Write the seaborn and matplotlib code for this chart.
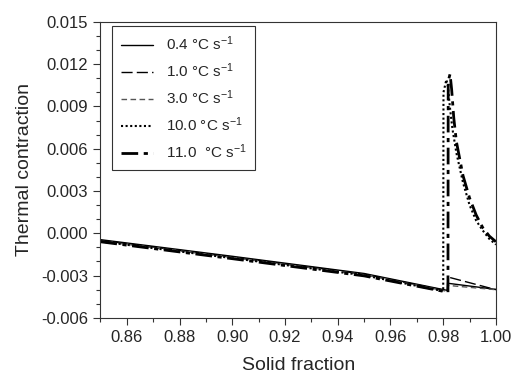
import matplotlib
matplotlib.use("Agg")
import matplotlib.pyplot as plt
import seaborn as sns
import numpy as np
import pandas as pd
from matplotlib.ticker import MultipleLocator

# ---- data ----
labels = ["0.4 °C s$^{-1}$", "1.0 °C s$^{-1}$", "3.0 °C s$^{-1}$",
          "10.0 °C s$^{-1}$", "11.0  °C s$^{-1}$"]

x_04 = [0.85, 0.90, 0.95, 0.9816, 0.9820, 1.00]
y_04 = [-0.00045, -0.00163, -0.00285, -0.00405, -0.00355, -0.00398]

x_10 = [0.85, 0.90, 0.95, 0.9815, 0.9818, 1.00]
y_10 = [-0.00050, -0.00168, -0.00290, -0.00408, -0.00310, -0.00400]

x_30 = [0.85, 0.90, 0.95, 0.9816, 0.9820, 1.00]
y_30 = [-0.00055, -0.00172, -0.00294, -0.00412, -0.00370, -0.00400]

x_100 = [0.85, 0.90, 0.95, 0.9800, 0.9801, 0.9812, 0.9818, 0.9825, 0.9835,
         0.985, 0.9875, 0.990, 0.9925, 0.995, 0.9975, 1.00]
y_100 = [-0.00058, -0.00176, -0.00298, -0.00410, 0.0100, 0.0109, 0.0104,
         0.0090, 0.0074, 0.0057, 0.0036, 0.0020, 0.0009, 0.0002, -0.0004, -0.0008]

x_110 = [0.85, 0.90, 0.95, 0.9818, 0.9819, 0.9826, 0.9832, 0.984, 0.985,
         0.9875, 0.990, 0.9925, 0.995, 0.9975, 1.00]
y_110 = [-0.00060, -0.00180, -0.00302, -0.00418, 0.0108, 0.0113, 0.0102,
         0.0082, 0.0065, 0.0041, 0.0025, 0.0013, 0.0004, -0.0002, -0.0006]

x_ticks = [0.86, 0.88, 0.90, 0.92, 0.94, 0.96, 0.98, 1.00]
y_ticks = [-0.006, -0.003, 0.000, 0.003, 0.006, 0.009, 0.012, 0.015]

# ---- style ----
sns.set_style("ticks")
plt.rcParams['font.family'] = ['Liberation Sans', 'DejaVu Sans']
plt.rcParams['mathtext.fontset'] = 'custom'
plt.rcParams['mathtext.rm'] = 'Liberation Sans'
plt.rcParams['mathtext.it'] = 'Liberation Sans:italic'

fig = plt.figure(figsize=(5.15, 3.83), dpi=100)
ax = fig.add_axes([0.195, 0.170, 0.768, 0.773])

series = [(x_04, y_04), (x_10, y_10), (x_30, y_30), (x_100, y_100), (x_110, y_110)]
styles = [
    dict(color="black", lw=1.0, ls="-"),
    dict(color="black", lw=1.0, ls=(0, (8, 3))),
    dict(color="#555555", lw=1.0, ls=(0, (4, 2.5))),
    dict(color="black", lw=1.5, ls=(0, (1, 1.2))),
    dict(color="black", lw=2.0, ls=(0, (6, 2, 1.5, 2))),
]
for (xs, ys), lab, st in zip(series, labels, styles):
    df = pd.DataFrame({"x": xs, "y": ys})
    sns.lineplot(data=df, x="x", y="y", ax=ax, label=lab, sort=False,
                 estimator=None, **st)

ax.set_xlim(0.85, 1.00)
ax.set_ylim(-0.006, 0.015)
ax.set_xticks(x_ticks)
ax.set_xticklabels([f"{v:.2f}" for v in x_ticks])
ax.set_yticks(y_ticks)
ax.set_yticklabels([f"{v:.3f}" for v in y_ticks])
ax.xaxis.set_minor_locator(MultipleLocator(0.01))
ax.yaxis.set_minor_locator(MultipleLocator(0.001))
ax.tick_params(which="major", direction="out", length=5, width=0.8,
               labelsize=12, color="#333333", pad=4)
ax.tick_params(which="minor", direction="out", length=3, width=0.8,
               color="#333333")
for s in ax.spines.values():
    s.set_visible(True)
    s.set_linewidth(0.8)
    s.set_color("#333333")

ax.set_xlabel("Solid fraction", fontsize=14, labelpad=8)
ax.set_ylabel("Thermal contraction", fontsize=14, labelpad=6)

leg = ax.legend(loc="upper left", bbox_to_anchor=(0.03, 0.985), fontsize=11,
                frameon=True, fancybox=False, edgecolor="black",
                handlelength=2.1, handletextpad=0.85, labelspacing=0.55,
                borderpad=0.55, borderaxespad=0)
leg.get_frame().set_linewidth(0.8)

fig.savefig("out.png", dpi=100)
